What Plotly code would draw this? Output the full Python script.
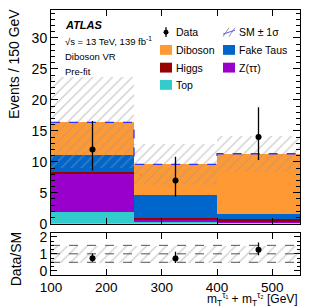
import plotly.graph_objects as go

# ---------------- data ----------------
bin_edges = [100, 250, 400, 550]
bin_centers = [175, 325, 475]
bin_width = 150
top = [1.90, 0.30, 0.15]
ztautau = [6.20, 0.45, 0.10]
higgs = [0.20, 0.20, 0.45]
fake_taus = [2.80, 3.65, 0.90]
diboson = [5.25, 5.00, 9.70]
sm_unc = [7.3, 3.3, 2.9]
data = [12, 7, 14]
data_err_up = [4.6, 3.8, 4.8]
data_err_down = [3.4, 2.6, 3.7]
ratio_band = [0.5, 1.5]
ratio_lines = [0.5, 1.0, 1.5]
x_ticks = [100, 200, 300, 400, 500]

samples = [
    ("Top", top, "#33CCCC"),
    ("Z(ττ)", ztautau, "#9900CC"),
    ("Higgs", higgs, "#990000"),
    ("Fake Taus", fake_taus, "#0066CC"),
    ("Diboson", diboson, "#FF9933"),
]

W, H = 316, 307
ML, MR, MT, MB = 51, 16, 6, 32
PW, PH = W - ML - MR, H - MT - MB


def px(x):
    return (x - ML) / PW


def py(y):
    return (H - MB - y) / PH


FONT = "Liberation Sans, Arial, Helvetica, sans-serif"
fig = go.Figure()

# stacked backgrounds
base = [0.0, 0.0, 0.0]
for name, vals, col in samples:
    fig.add_trace(go.Bar(x=bin_centers, y=vals, base=list(base), width=bin_width,
                         marker=dict(color=col, line=dict(width=0)), opacity=1,
                         showlegend=False, xaxis="x", yaxis="y"))
    base = [b + v for b, v in zip(base, vals)]
total = base

hatch = dict(shape="/", fgcolor="#999999", bgcolor="rgba(0,0,0,0)",
             size=7, solidity=0.18, fillmode="overlay")

# uncertainty band
fig.add_trace(go.Bar(x=bin_centers, y=[2 * u for u in sm_unc],
                     base=[t - u for t, u in zip(total, sm_unc)], width=bin_width,
                     marker=dict(color="rgba(0,0,0,0)", line=dict(width=0), pattern=hatch),
                     showlegend=False, xaxis="x", yaxis="y"))

# total SM dashed line
fig.add_trace(go.Scatter(x=bin_edges, y=total + [total[-1]], mode="lines",
                         line=dict(color="#3333FF", dash="dash", width=1.3, shape="hv"),
                         showlegend=False, xaxis="x", yaxis="y"))

# data
fig.add_trace(go.Scatter(x=bin_centers, y=data, mode="markers",
                         marker=dict(color="black", size=6),
                         error_y=dict(type="data", symmetric=False, array=data_err_up,
                                      arrayminus=data_err_down, color="black", thickness=1.3, width=0),
                         showlegend=False, xaxis="x", yaxis="y"))

# ratio panel
fig.add_trace(go.Bar(x=[(bin_edges[0] + bin_edges[-1]) / 2], y=[ratio_band[1] - ratio_band[0]],
                     base=[ratio_band[0]], width=bin_edges[-1] - bin_edges[0],
                     marker=dict(color="rgba(0,0,0,0)", line=dict(width=0), pattern=hatch),
                     showlegend=False, xaxis="x2", yaxis="y2"))
for v in ratio_lines:
    fig.add_trace(go.Scatter(x=[bin_edges[0], bin_edges[-1]], y=[v, v], mode="lines",
                             line=dict(color="#555555", dash="dash", width=1),
                             showlegend=False, xaxis="x2", yaxis="y2"))
ratio = [d / t for d, t in zip(data, total)]
fig.add_trace(go.Scatter(x=bin_centers, y=ratio, mode="markers",
                         marker=dict(color="black", size=6),
                         error_y=dict(type="data", symmetric=False,
                                      array=[e / t for e, t in zip(data_err_up, total)],
                                      arrayminus=[e / t for e, t in zip(data_err_down, total)],
                                      color="black", thickness=1.3, width=0),
                         showlegend=False, xaxis="x2", yaxis="y2"))

axis_common = dict(showline=True, linecolor="black", linewidth=1, mirror="allticks",
                   ticks="inside", tickcolor="black", showgrid=False, zeroline=False)
tf14 = dict(family=FONT, size=14, color="black")
tf13 = dict(family=FONT, size=13.5, color="black")

main_bottom = py(223)
ratio_top = py(232)

fig.update_layout(
    width=W, height=H, margin=dict(l=ML, r=MR, t=MT, b=MB),
    paper_bgcolor="white", plot_bgcolor="white", barmode="overlay", bargap=0,
    showlegend=False, font=dict(family=FONT, color="black"),
    xaxis=dict(domain=[0, 1], range=[100, 550], anchor="y", tickvals=x_ticks,
               showticklabels=False, ticklen=6, tickfont=tf13, **axis_common),
    yaxis=dict(domain=[main_bottom, 1], range=[0, 34.5], anchor="x", dtick=5, tick0=0,
               ticklen=7, minor=dict(ticks="inside", dtick=1, ticklen=4, tickcolor="black"),
               tickfont=tf14, **axis_common),
    xaxis2=dict(domain=[0, 1], range=[100, 550], anchor="y2", tickvals=x_ticks,
                ticklen=6, matches="x", tickfont=tf13, **axis_common),
    yaxis2=dict(domain=[0, ratio_top], range=[-0.25, 2.25], anchor="x2", tickvals=[0, 1, 2],
                ticklen=6, minor=dict(ticks="inside", dtick=0.25, ticklen=3, tickcolor="black"),
                tickfont=tf14, **axis_common),
)

ann = []
shapes = []


def text(x, y, s, size=10.5, xanchor="left", **kw):
    ann.append(dict(x=px(x), y=py(y), xref="paper", yref="paper", text=s, showarrow=False,
                    xanchor=xanchor, yanchor="middle", font=dict(family=FONT, size=size, color="black"), **kw))


text(63, 21, "<b><i>ATLAS</i></b>", size=11)
text(63, 37.5, "√s = 13 TeV, 139 fb<sup>-1</sup>", size=9.5)
text(63, 53, "Diboson VR", size=9.5)
text(63, 68, "Pre-fit", size=9.5)

# axis titles
ann.append(dict(x=px(14), y=py(3), xref="paper", yref="paper", text="Events / 150 GeV",
                showarrow=False, textangle=-90, xanchor="center", yanchor="top",
                font=dict(family=FONT, size=14, color="black")))
ann.append(dict(x=px(16), y=py(259), xref="paper", yref="paper", text="Data/SM",
                showarrow=False, textangle=-90, xanchor="center", yanchor="middle",
                font=dict(family=FONT, size=14, color="black")))
ann.append(dict(x=px(300), y=py(299), xref="paper", yref="paper",
                text="m<sub>T</sub><sup>τ₁</sup> + m<sub>T</sub><sup>τ₂</sup> [GeV]",
                showarrow=False, xanchor="right", yanchor="middle",
                font=dict(family=FONT, size=12, color="black")))

# legend
legend_rows = [28.5, 46.5, 64.5, 82]
col1_sym, col2_sym = 160, 223
# Data
shapes.append(dict(type="line", xref="paper", yref="paper", x0=px(166), x1=px(166),
                   y0=py(23.5), y1=py(33.5), line=dict(color="black", width=1.3)))
shapes.append(dict(type="circle", xref="paper", yref="paper", x0=px(163.5), x1=px(168.5),
                   y0=py(26), y1=py(31), fillcolor="black", line=dict(color="black", width=0)))
text(174, legend_rows[0], "Data")
# SM +- 1 sigma
for dx in [0, 6]:
    shapes.append(dict(type="line", xref="paper", yref="paper", x0=px(col2_sym + dx), x1=px(col2_sym + dx + 6),
                       y0=py(33), y1=py(24), line=dict(color="#999999", width=1)))
shapes.append(dict(type="line", xref="paper", yref="paper", x0=px(col2_sym), x1=px(col2_sym + 12),
                   y0=py(30.5), y1=py(26.5), line=dict(color="#5555FF", width=1)))
text(237, legend_rows[0], "SM ± 1σ")

entries = [("Diboson", 0, 1), ("Fake Taus", 1, 1), ("Higgs", 0, 2), ("Z(ττ)", 1, 2), ("Top", 0, 3)]
colors = {n: c for n, v, c in samples}
for name, col, row in entries:
    sx = col1_sym if col == 0 else col2_sym
    yc = legend_rows[row]
    shapes.append(dict(type="rect", xref="paper", yref="paper", x0=px(sx), x1=px(sx + 12),
                       y0=py(yc + 5), y1=py(yc - 5), fillcolor=colors[name], line=dict(width=0)))
    text(sx + 14, yc, name)

fig.update_layout(annotations=ann, shapes=shapes)
fig.write_html("out.html", config={"displayModeBar": False},
               post_script="document.body.style.margin='0';document.body.style.overflow='hidden';")
